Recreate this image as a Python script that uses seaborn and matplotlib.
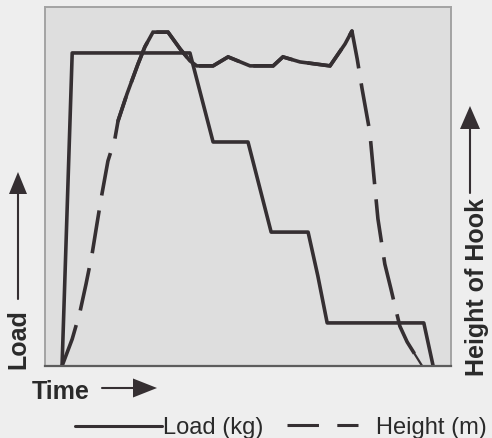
import matplotlib
matplotlib.use("Agg")
import matplotlib.pyplot as plt
from matplotlib.lines import Line2D
from matplotlib.patches import Polygon
import numpy as np
import pandas as pd
import seaborn as sns

# Crane lift cycle: load on the hook and hook height over time (relative units)
load_time = [4.2, 6.7, 35.7, 41.4, 50.0, 55.7, 64.8, 67.2, 69.5, 93.3, 95.6]
load_value = [0, 87.2, 87.2, 62.4, 62.4, 37.3, 37.3, 25.1, 12.0, 12.0, 0]

height_time = [4.2, 6.7, 8.6, 10.1, 11.6, 12.8, 13.8, 15.5, 17.2, 18.0, 20.2,
               22.9, 24.6, 26.6, 30.3, 33.3, 35.7, 37.4, 41.4, 45.1, 50.5,
               56.2, 58.6, 62.8, 70.2, 73.9, 75.6, 76.9, 78.1, 80.0, 81.0,
               82.0, 83.7, 85.2, 86.2, 87.4, 89.2, 92.9]
height_value = [0, 7.5, 15.0, 22.8, 31.2, 39.6, 46.5, 57.1, 63.2, 68.3, 75.8,
                84.1, 88.9, 93.0, 93.0, 88.3, 85.0, 83.6, 83.6, 86.1, 83.6,
                83.6, 86.1, 84.7, 83.6, 89.7, 93.3, 85.5, 77.2, 65.2, 52.9,
                41.0, 28.4, 21.5, 16.7, 11.1, 6.7, 0]

series_names = ["Load (kg)", "Height (m)"]
axis_labels = {"x": "Time", "left": "Load", "right": "Height of Hook"}

df = pd.concat([
    pd.DataFrame({"time": load_time, "value": load_value, "series": series_names[0]}),
    pd.DataFrame({"time": height_time, "value": height_value, "series": series_names[1]}),
], ignore_index=True)

sns.set_theme(style="white")
plt.rcParams["font.family"] = ["Liberation Sans", "DejaVu Sans"]

W, H = 492, 439
fig = plt.figure(figsize=(W / 100, H / 100), dpi=100, facecolor="#eeeeee")
ax = fig.add_axes([45 / W, 1 - 367 / H, (451 - 45) / W, (367 - 8) / H])
ax.set_facecolor("#dedede")

ink = "#352f32"
lw = 2.6
sns.lineplot(data=df, x="time", y="value", style="series", sort=False,
             dashes={series_names[0]: "", series_names[1]: (12, 4.2)},
             color=ink, linewidth=lw, legend=False, ax=ax, estimator=None)

# the hook travels with the load near the top: drawn as a continuous line there
ht = np.array(height_time)
hv = np.array(height_value)
top = slice(9, 27)
ax.plot(ht[top], hv[top], color=ink, lw=lw, solid_joinstyle="miter")
ax.plot(ht[35:], hv[35:], color=ink, lw=1.6)

ax.set_xlim(0, 100)
ax.set_ylim(0, 100)
ax.set_xticks([])
ax.set_yticks([])
ax.set_xlabel("")
ax.set_ylabel("")
for side in ["left", "top", "right"]:
    ax.spines[side].set_color("#a3a3a3")
    ax.spines[side].set_linewidth(1.4)
ax.spines["bottom"].set_color("#5c5c5c")
ax.spines["bottom"].set_linewidth(1.6)


def fx(px):
    return px / W


def fy(py):
    return 1 - py / H


def arrow(x0, y0, x1, y1, head_len, head_half):
    # shaft plus a filled triangular head, in pixel coordinates
    d = np.array([x1 - x0, y1 - y0], dtype=float)
    d /= np.hypot(*d)
    n = np.array([-d[1], d[0]])
    base = np.array([x1, y1]) - d * head_len
    fig.add_artist(Line2D([fx(x0), fx(base[0])], [fy(y0), fy(base[1])],
                          transform=fig.transFigure, color=ink, lw=1.5))
    pts = [np.array([x1, y1]), base + n * head_half, base - n * head_half]
    fig.add_artist(Polygon([(fx(p[0]), fy(p[1])) for p in pts], closed=True,
                           transform=fig.transFigure, color=ink, lw=0))


txt = dict(color="#2a2a2a", fontsize=17)
bold = dict(color="#2a2a2a", fontsize=18, fontweight="bold")

fig.text(fx(18), fy(339), axis_labels["left"], rotation=90, ha="center", va="center", **bold)
arrow(18, 300, 18, 173, 22, 9)

fig.text(fx(477), fy(287), axis_labels["right"], rotation=90, ha="center", va="center", **bold)
arrow(470, 194, 470, 107, 23, 10)

fig.text(fx(32), fy(392), axis_labels["x"], ha="left", va="center", **bold)
arrow(102, 389, 157, 389, 24, 9.5)

# key below the plot
fig.add_artist(Line2D([fx(75), fx(162)], [fy(427), fy(427)], transform=fig.transFigure,
                      color=ink, lw=2.2))
fig.text(fx(163), fy(428), series_names[0], ha="left", va="center", **txt)
fig.add_artist(Line2D([fx(287), fx(358)], [fy(426), fy(426)], transform=fig.transFigure,
                      color=ink, lw=2.2, linestyle=(0, (10.3, 6.0))))
fig.text(fx(376), fy(428), series_names[1], ha="left", va="center", **txt)

fig.savefig("out.png", dpi=100, facecolor=fig.get_facecolor())
